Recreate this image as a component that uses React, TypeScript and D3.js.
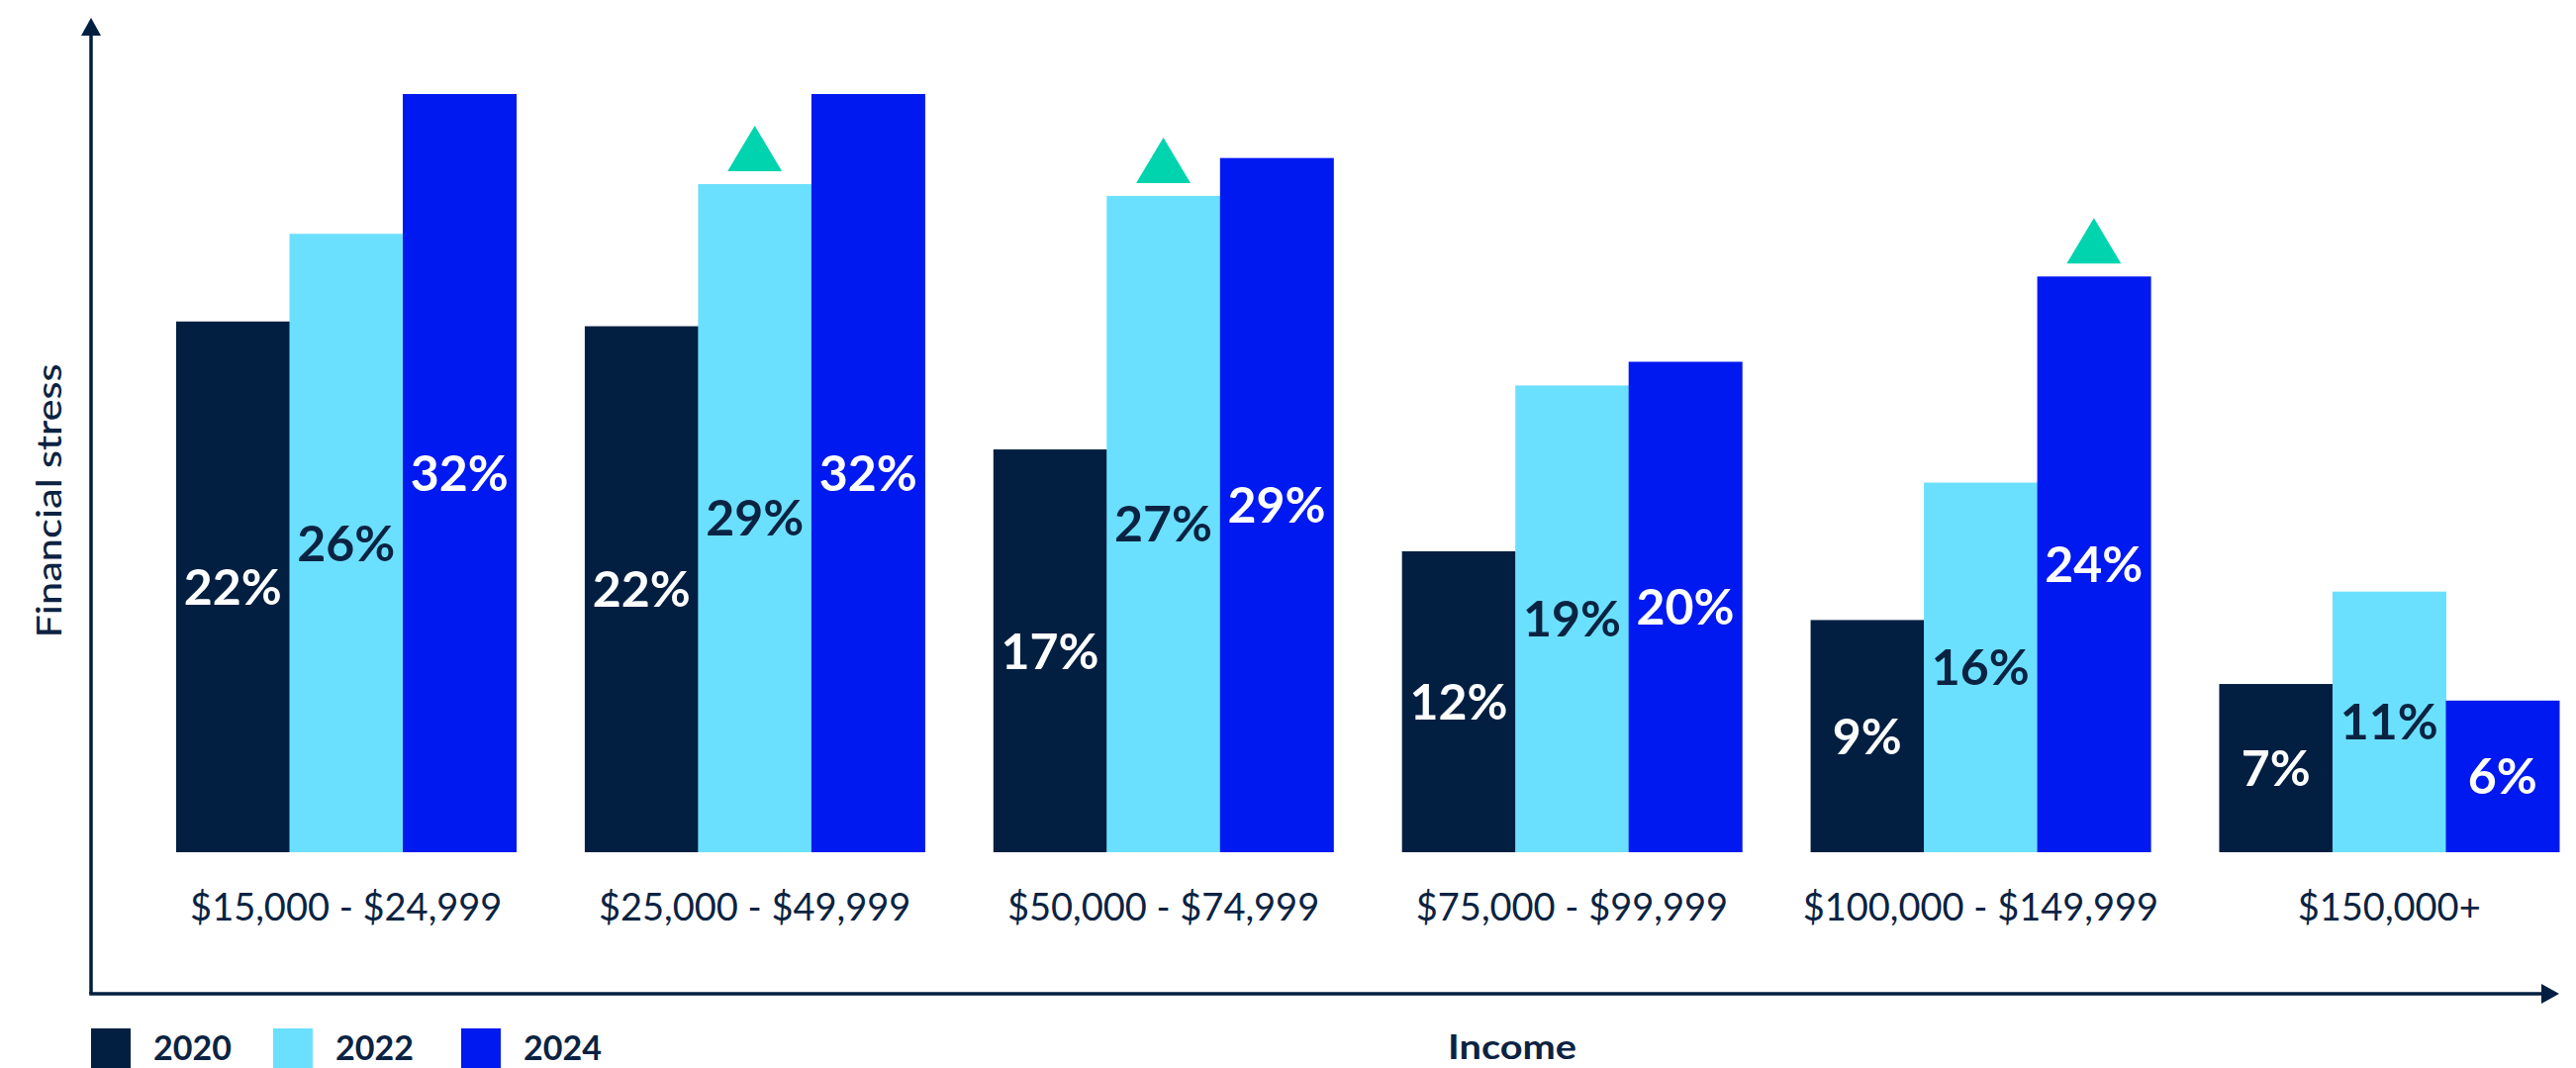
import React from "react";
import * as d3 from "d3";

const categories = [
  "$15,000 - $24,999",
  "$25,000 - $49,999",
  "$50,000 - $74,999",
  "$75,000 - $99,999",
  "$100,000 - $149,999",
  "$150,000+",
];
const seriesNames = ["2020", "2022", "2024"];
const values2020 = [22.4, 22.2, 17.0, 12.7, 9.8, 7.1];
const values2022 = [26.1, 28.2, 27.7, 19.7, 15.6, 11.0];
const values2024 = [32, 32, 29.3, 20.7, 24.3, 6.4];
const labels2020 = ["22%", "22%", "17%", "12%", "9%", "7%"];
const labels2022 = ["26%", "29%", "27%", "19%", "16%", "11%"];
const labels2024 = ["32%", "32%", "29%", "20%", "24%", "6%"];
// markers: [category index, series index] with significant increase
const increaseMarkers = [
  [1, 1],
  [2, 1],
  [4, 2],
];
const yAxisTitle = "Financial stress";
const xAxisTitle = "Income";

const W = 2603;
const H = 1079;
const NAVY = "#021F41";
const TEXT = "#0B2342";
const colors = ["#021F41", "#6BE0FE", "#0019F0"];
const labelColors = ["#FFFFFF", "#0B2342", "#FFFFFF"];
const TRI = "#00D4AE";
const FONT = "Lato, 'Noto Sans', sans-serif";

export default function App() {
  const allValues = [values2020, values2022, values2024];
  const allLabels = [labels2020, labels2022, labels2024];

  const x0 = d3
    .scaleBand<string>()
    .domain(categories)
    .range([178, 2586])
    .paddingInner(0.168)
    .paddingOuter(0);
  const x1 = d3
    .scaleBand<string>()
    .domain(seriesNames)
    .range([0, x0.bandwidth()])
    .padding(0);
  const y = d3.scaleLinear().domain([0, 32]).range([861, 95]);

  const axisX = 92;
  const axisY = 1004;

  const triW = 55;
  const triH = 46;
  const triGap = 13;

  return (
    <svg
      width={W}
      height={H}
      style={{ position: "absolute", left: 0, top: 0, display: "block", background: "#fff" }}
    >
      <rect width={W} height={H} fill="#fff" />
      {categories.map((c, ci) => (
        <g key={c} transform={`translate(${x0(c)},0)`}>
          {seriesNames.map((s, si) => {
            const v = allValues[si][ci];
            const bx = x1(s)!;
            const by = y(v);
            const bh = y(0) - by;
            const cy = by + bh / 2;
            const fs = 50;
            return (
              <g key={s}>
                <rect x={bx} y={by} width={x1.bandwidth() + 0.5} height={bh} fill={colors[si]} />
                <text
                  x={bx + x1.bandwidth() / 2}
                  y={cy + fs * 0.36}
                  textAnchor="middle"
                  fontFamily={FONT}
                  fontWeight={700}
                  fontSize={fs}
                  fill={labelColors[si]}
                >
                  {allLabels[si][ci]}
                </text>
              </g>
            );
          })}
          <text
            x={x0.bandwidth() / 2}
            y={930}
            textAnchor="middle"
            fontFamily={FONT}
            fontWeight={400}
            fontSize={38}
            fill={TEXT}
          >
            {c}
          </text>
        </g>
      ))}

      {increaseMarkers.map(([ci, si]) => {
        const cx = x0(categories[ci])! + x1(seriesNames[si])! + x1.bandwidth() / 2;
        const top = y(allValues[si][ci]) - triGap;
        const path = d3.path();
        path.moveTo(cx - triW / 2, top);
        path.lineTo(cx + triW / 2, top);
        path.lineTo(cx, top - triH);
        path.closePath();
        return <path key={`${ci}-${si}`} d={path.toString()} fill={TRI} />;
      })}

      {/* axes */}
      <line x1={axisX} y1={axisY} x2={axisX} y2={32} stroke={NAVY} strokeWidth={3.5} />
      <path d={`M${axisX - 10},${36} L${axisX + 10},${36} L${axisX},${18} Z`} fill={NAVY} />
      <line x1={axisX - 1.75} y1={axisY} x2={2570} y2={axisY} stroke={NAVY} strokeWidth={3.5} />
      <path d={`M2568,${axisY - 10} L2568,${axisY + 10} L2586,${axisY} Z`} fill={NAVY} />

      <text
        transform={`translate(62,506) rotate(-90)`}
        textAnchor="middle"
        fontFamily={FONT}
        fontWeight={500}
        fontSize={35}
        fill={TEXT}
        textLength={277}
        lengthAdjust="spacingAndGlyphs"
      >
        {yAxisTitle}
      </text>
      <text
        x={1528}
        y={1070}
        textAnchor="middle"
        fontFamily={FONT}
        fontWeight={700}
        fontSize={35}
        fill={TEXT}
        textLength={130}
        lengthAdjust="spacingAndGlyphs"
      >
        {xAxisTitle}
      </text>

      {/* legend */}
      {seriesNames.map((s, i) => {
        const lx = [92, 276, 466][i];
        return (
          <g key={s}>
            <rect x={lx} y={1039} width={40} height={40} fill={colors[i]} />
            <text
              x={lx + 63}
              y={1071}
              fontFamily={FONT}
              fontWeight={700}
              fontSize={34}
              fill={TEXT}
            >
              {s}
            </text>
          </g>
        );
      })}
    </svg>
  );
}
